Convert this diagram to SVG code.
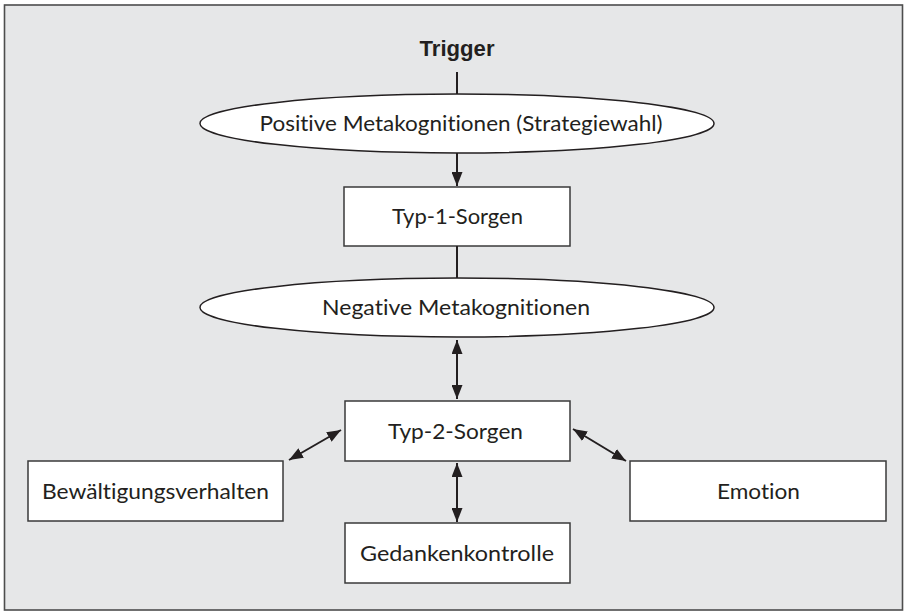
<svg xmlns="http://www.w3.org/2000/svg" width="906" height="613" viewBox="0 0 906 613">
<defs>
<style>
.frame{fill:#e6e7e8;stroke:#4d4d4d;stroke-width:1.6}
.box{fill:#ffffff;stroke:#3a3a3a;stroke-width:1.5}
.ell{fill:#ffffff;stroke:#231f20;stroke-width:1.5}
.lbl{font-family:Lato,"Noto Sans","Liberation Sans",sans-serif;font-size:22px;fill:#231f20;text-anchor:middle;font-variant-ligatures:none}
.bold{font-family:"Liberation Sans Narrow","Liberation Sans",sans-serif;font-weight:bold;font-size:22px;fill:#231f20;text-anchor:middle}
.con{stroke:#231f20;stroke-width:2;fill:none}
</style>
<marker id="ah" viewBox="0 0 14 11" refX="14" refY="5.5" markerWidth="14" markerHeight="11" markerUnits="userSpaceOnUse" orient="auto-start-reverse">
<path d="M0,0 L14,5.5 L0,11 z" fill="#231f20"/>
</marker>
</defs>
<rect class="frame" x="4.5" y="5" width="898" height="605"/>
<g id="trigger">
<text class="bold" x="457" y="56" textLength="75" lengthAdjust="spacingAndGlyphs">Trigger</text>
</g>
<g id="positive-metakognitionen">
<ellipse class="ell" cx="457" cy="123.5" rx="257" ry="29.5"/>
<text class="lbl" x="461" y="131" textLength="403" lengthAdjust="spacingAndGlyphs">Positive Metakognitionen (Strategiewahl)</text>
</g>
<g id="typ1">
<rect class="box" x="344" y="187" width="226" height="59"/>
<text class="lbl" x="457.5" y="224" textLength="131" lengthAdjust="spacingAndGlyphs">Typ-1-Sorgen</text>
</g>
<g id="negative-metakognitionen">
<ellipse class="ell" cx="457" cy="307.5" rx="257" ry="29.5"/>
<text class="lbl" x="456" y="315" textLength="268" lengthAdjust="spacingAndGlyphs">Negative Metakognitionen</text>
</g>
<g id="typ2">
<rect class="box" x="345" y="401" width="225" height="60"/>
<text class="lbl" x="455.5" y="439" textLength="135" lengthAdjust="spacingAndGlyphs">Typ-2-Sorgen</text>
</g>
<g id="bewaeltigung">
<rect class="box" x="28" y="461" width="255" height="60"/>
<text class="lbl" x="155.5" y="499" textLength="227" lengthAdjust="spacingAndGlyphs">Bewältigungsverhalten</text>
</g>
<g id="emotion">
<rect class="box" x="630" y="461" width="256" height="60"/>
<text class="lbl" x="758.5" y="499" textLength="83" lengthAdjust="spacingAndGlyphs">Emotion</text>
</g>
<g id="gedankenkontrolle">
<rect class="box" x="345" y="523" width="225" height="60"/>
<text class="lbl" x="457" y="561" textLength="194" lengthAdjust="spacingAndGlyphs">Gedankenkontrolle</text>
</g>
<g id="connectors">
<line class="con" x1="457" y1="72" x2="457" y2="94"/>
<line class="con" x1="457" y1="153" x2="457" y2="186" marker-end="url(#ah)"/>
<line class="con" x1="457" y1="246" x2="457" y2="278"/>
<line class="con" x1="457" y1="340" x2="457" y2="399" marker-start="url(#ah)" marker-end="url(#ah)"/>
<line class="con" x1="457" y1="463" x2="457" y2="522" marker-start="url(#ah)" marker-end="url(#ah)"/>
<line class="con" x1="341" y1="430" x2="289" y2="460" marker-start="url(#ah)" marker-end="url(#ah)"/>
<line class="con" x1="573" y1="429" x2="626" y2="461" marker-start="url(#ah)" marker-end="url(#ah)"/>
</g>
</svg>
